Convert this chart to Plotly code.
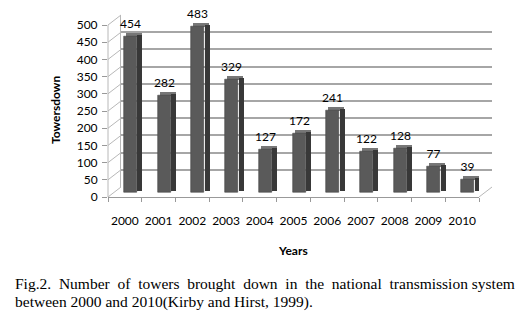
import plotly.graph_objects as go

# ---- data ----
years = ["2000", "2001", "2002", "2003", "2004", "2005", "2006", "2007", "2008", "2009", "2010"]
towers_down = [454, 282, 483, 329, 127, 172, 241, 122, 128, 77, 39]
y_ticks = [0, 50, 100, 150, 200, 250, 300, 350, 400, 450, 500]
x_title = "Years"
y_title = "Towersdown"
caption_1 = "Fig.2.  Number  of  towers  brought  down  in  the  national  transmission system"
caption_2 = "between 2000 and 2010(Kirby and Hirst, 1999)."

# page body has an 8px margin -> figure is 16px smaller, coordinates shifted by 8
OFF = 8
W, H = 524 - 2 * OFF, 322 - 2 * OFF
FONT = "Lato"

def X(px):
    return (px - OFF) / W

def Y(py):
    return (H - (py - OFF)) / H

# geometry (reference-pixel coordinates)
fx0, fx1 = 108, 479        # front floor edge
fy0, fy1 = 197, 25         # front y: 0 -> 197, 500 -> 25
bx0, bx1 = 121, 492        # back wall
by0, by1 = 187, 15
ypx = (fy0 - fy1) / 500.0  # px per unit
cat = (fx1 - fx0) / len(years)
ymax_front = 545           # extra headroom above 500 so the top labels are shown
fy_top = fy0 - ymax_front * ypx

def u(px):
    return px / ypx

fig = go.Figure()

# back-wall subplot (x, y): only gridlines
fig.add_trace(go.Scatter(x=[], y=[], xaxis="x", yaxis="y", showlegend=False))

base_front = u(4)
front_off, front_w = -1 / cat, 13 / cat
side_off, side_w = 12.5 / cat, 5 / cat
noline = dict(width=0)

# top face
fig.add_trace(go.Bar(
    x=years, y=[u(4)] * len(years), base=[v + base_front for v in towers_down],
    offset=front_off + 2 / cat, width=16 / cat, marker=dict(color="#777777", line=noline),
    xaxis="x2", yaxis="y2", showlegend=False, hoverinfo="skip"))
# side face
fig.add_trace(go.Bar(
    x=years, y=towers_down, base=base_front + u(2),
    offset=side_off, width=side_w, marker=dict(color="#383838", line=noline),
    xaxis="x2", yaxis="y2", showlegend=False, hoverinfo="skip"))
# front face
fig.add_trace(go.Bar(
    x=years, y=towers_down, base=base_front,
    offset=front_off, width=front_w, marker=dict(color="#5a5a5a", line=dict(width=0.6, color="#444444")),
    xaxis="x2", yaxis="y2", showlegend=False, hoverinfo="skip"))
# value labels
fig.add_trace(go.Bar(
    x=years, y=towers_down, base=base_front + u(3),
    offset=front_off, width=front_w, marker=dict(color="rgba(0,0,0,0)", line=noline),
    text=[str(v) for v in towers_down], textposition="outside", cliponaxis=False,
    constraintext="none",
    textfont=dict(family=FONT, size=12, color="#000"),
    xaxis="x2", yaxis="y2", showlegend=False, hoverinfo="skip"))

grid_col = "#a6a6a6"
edge_col = "#b8b8b8"
shapes = []
shift = u(fy0 - by0)
for v in y_ticks:
    shapes.append(dict(type="line", xref="paper", yref="y2",
                       x0=X(fx0), y0=v, x1=X(bx0), y1=v + shift,
                       line=dict(color=edge_col, width=1)))
shapes.append(dict(type="line", xref="paper", yref="y2",
                   x0=X(fx1), y0=0, x1=X(bx1), y1=shift,
                   line=dict(color=edge_col, width=1)))
# front vertical edge of the left wall
shapes.append(dict(type="line", xref="paper", yref="y2",
                   x0=X(fx0), y0=y_ticks[0], x1=X(fx0), y1=y_ticks[-1],
                   line=dict(color=edge_col, width=1)))

fig.update_layout(
    width=W, height=H,
    margin=dict(l=0, r=0, t=0, b=0),
    paper_bgcolor="white", plot_bgcolor="rgba(0,0,0,0)",
    barmode="overlay", bargap=0,
    shapes=shapes,
    xaxis=dict(domain=[X(bx0), X(bx1)], visible=False, anchor="y", range=[0, 1], automargin=False),
    yaxis=dict(domain=[Y(by0), Y(by1)], range=[0, 500], anchor="x",
               tickvals=y_ticks, showgrid=True, gridcolor=grid_col, gridwidth=2,
               showticklabels=False, zeroline=False, ticks="", automargin=False,
               showline=True, linecolor=edge_col, linewidth=1),
    xaxis2=dict(domain=[X(fx0), X(fx1)], anchor="y2", type="category",
                range=[-0.5, len(years) - 0.5], tickson="boundaries",
                ticks="outside", ticklen=4, tickcolor="#999", showgrid=False,
                showline=True, linecolor="#999", linewidth=1, zeroline=False,
                tickfont=dict(family=FONT, size=12, color="#000"), tickangle=0,
                ticklabelstandoff=13, automargin=False),
    yaxis2=dict(domain=[Y(fy0), Y(fy_top)], anchor="x2", range=[0, ymax_front],
                tickvals=y_ticks, ticks="outside", ticklen=5, tickcolor="#999",
                showgrid=False, zeroline=False, showline=False,
                tickfont=dict(family=FONT, size=12, color="#000"), ticklabelstandoff=2,
                automargin=False),
    annotations=[
        dict(text="<b>" + x_title + "</b>", x=X(293), y=Y(250), xref="paper", yref="paper",
             showarrow=False, font=dict(family=FONT, size=12, color="#000"), xanchor="center", yanchor="middle"),
        dict(text="<b>" + y_title + "</b>", x=X(55), y=Y(110), xref="paper", yref="paper",
             showarrow=False, textangle=-90, font=dict(family=FONT, size=12, color="#000"),
             xanchor="center", yanchor="middle"),
        dict(text=caption_1, x=X(13), y=Y(283), xref="paper", yref="paper",
             showarrow=False, font=dict(family="Liberation Serif", size=15.5, color="#000"),
             xanchor="left", yanchor="middle"),
        dict(text=caption_2, x=X(13), y=Y(302), xref="paper", yref="paper",
             showarrow=False, font=dict(family="Liberation Serif", size=15.5, color="#000"),
             xanchor="left", yanchor="middle"),
    ],
)

fig.write_html("out.html")
